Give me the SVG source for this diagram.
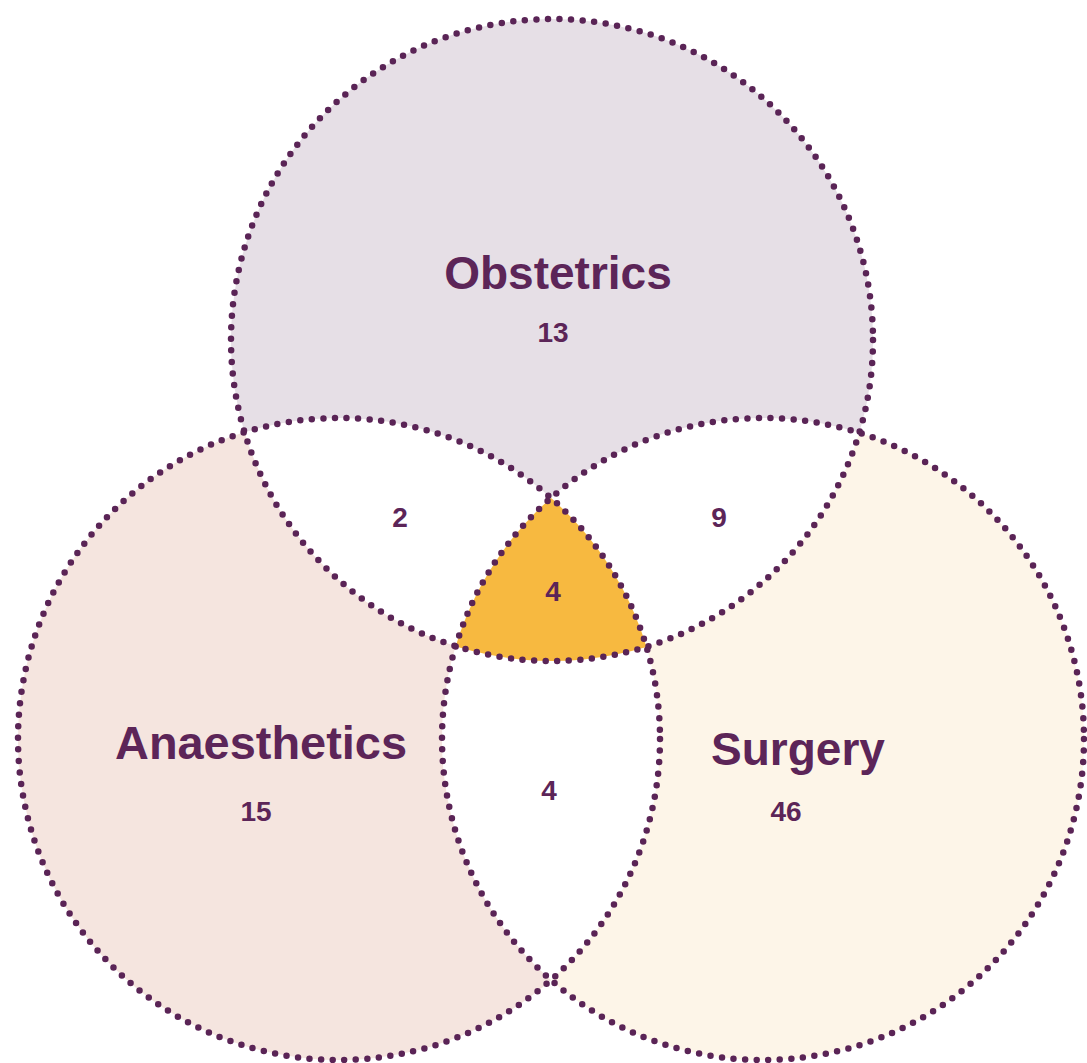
<svg xmlns="http://www.w3.org/2000/svg" xmlns:xlink="http://www.w3.org/1999/xlink" width="1087" height="1063" viewBox="0 0 1087 1063">
  <style>
    .lbl { font-family: "Liberation Sans", Arial, sans-serif; font-weight: bold; fill: #5c2558; text-anchor: middle; }
    .big { font-size: 46px; }
    .num { font-size: 28px; }
    .dots { fill: none; stroke: #5a2456; stroke-width: 6.5; stroke-linecap: round; stroke-dasharray: 0 11.6; }
  </style>
  <defs>
    <circle id="cO" cx="552" cy="340" r="321"/>
    <circle id="cA" cx="339" cy="739" r="321"/>
    <circle id="cS" cx="763" cy="739" r="321"/>
    <clipPath id="clipO"><use xlink:href="#cO"/></clipPath>
    <clipPath id="clipA"><use xlink:href="#cA"/></clipPath>
    <clipPath id="clipS"><use xlink:href="#cS"/></clipPath>
  </defs>
  <rect width="1087" height="1063" fill="#ffffff"/>

  <g id="obstetrics">
    <use xlink:href="#cO" fill="#e6dfe6"/>
    <text class="lbl big" x="558" y="289">Obstetrics</text>
    <text class="lbl num" x="553" y="342">13</text>
  </g>
  <g id="anaesthetics">
    <use xlink:href="#cA" fill="#f5e5df"/>
    <text class="lbl big" x="261" y="759" textLength="292" lengthAdjust="spacingAndGlyphs">Anaesthetics</text>
    <text class="lbl num" x="256" y="821">15</text>
  </g>
  <g id="surgery">
    <use xlink:href="#cS" fill="#fdf5e8"/>
    <text class="lbl big" x="798" y="765">Surgery</text>
    <text class="lbl num" x="786" y="821">46</text>
  </g>

  <g id="overlaps">
    <g clip-path="url(#clipO)"><use xlink:href="#cA" fill="#ffffff"/></g>
    <g clip-path="url(#clipO)"><use xlink:href="#cS" fill="#ffffff"/></g>
    <g clip-path="url(#clipA)"><use xlink:href="#cS" fill="#ffffff"/></g>
    <g clip-path="url(#clipO)"><g clip-path="url(#clipA)"><use xlink:href="#cS" fill="#f7b940"/></g></g>
    <text class="lbl num" x="400" y="527">2</text>
    <text class="lbl num" x="719" y="527">9</text>
    <text class="lbl num" x="553" y="601">4</text>
    <text class="lbl num" x="549" y="800">4</text>
  </g>

  <g id="connectors">
    <use xlink:href="#cO" class="dots"/>
    <use xlink:href="#cA" class="dots"/>
    <use xlink:href="#cS" class="dots"/>
  </g>
</svg>
